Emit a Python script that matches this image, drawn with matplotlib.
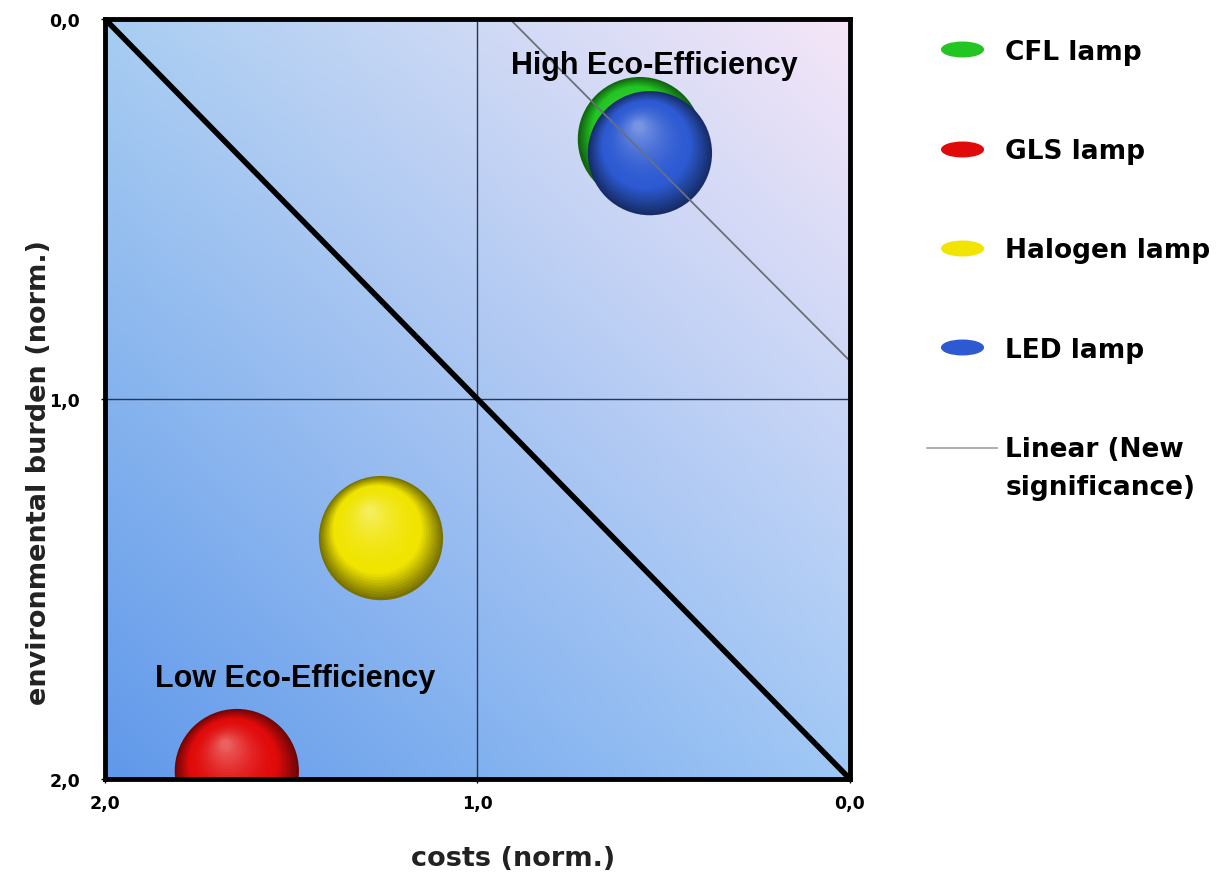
import numpy as np
import matplotlib
matplotlib.use("Agg")
import matplotlib.pyplot as plt
from matplotlib.lines import Line2D
from matplotlib.path import Path
from matplotlib.transforms import Affine2D
from matplotlib.colors import to_rgb

plt.rcParams["font.family"] = ["Liberation Sans", "DejaVu Sans"]

# data (normalised costs / environmental burden)
lamps = ["CFL lamp", "GLS lamp", "Halogen lamp", "LED lamp"]
costs = [0.564, 1.646, 1.259, 0.537]
burden = [0.316, 1.979, 1.366, 0.353]
lamp_colors = ["#22c522", "#e00a0a", "#f0e400", "#2d5ad2"]
draw_order = [0, 1, 2, 3]

trend_x = [0.913, 0.0]
trend_y = [0.0, 0.90]

ticks = [2.0, 1.0, 0.0]
tick_labels = ["2,0", "1,0", "0,0"]

fig = plt.figure(figsize=(12.26, 8.78), dpi=100)
ax = fig.add_axes([0.0856, 0.1116, 0.6077, 0.8656])
ax.set_xlim(2, 0)
ax.set_ylim(2, 0)

# background gradient
tl = np.array([168, 205, 242]) / 255
tr = np.array([246, 230, 248]) / 255
bl = np.array([96, 152, 234]) / 255
br = np.array([160, 200, 245]) / 255
n = 200
u = np.linspace(0, 1, n)[None, :, None]
v = np.linspace(0, 1, n)[:, None, None]
img = (1 - u) * (1 - v) * tl + u * (1 - v) * tr + (1 - u) * v * bl + u * v * br
ax.imshow(img, extent=(2, 0, 2, 0), aspect="auto", zorder=0, interpolation="bilinear")

# quadrant lines and diagonal
ax.axvline(1.0, color="#2a3550", lw=1.0, zorder=1)
ax.axhline(1.0, color="#2a3550", lw=1.0, zorder=1)
ax.plot([2, 0], [0, 2], color="black", lw=4, zorder=2, solid_capstyle="butt")
ax.plot(trend_x, trend_y, color="#6b6f7a", lw=1.3, zorder=5)

# shaded spheres
s_base = 8000
for i in draw_order:
    base = np.array(to_rgb(lamp_colors[i]))
    steps = 30
    for k, t in enumerate(np.linspace(0, 1, steps)):
        if t < 0.3:
            c = base * (0.5 + 0.5 * t / 0.3)
        else:
            c = base + (1 - base) * 0.35 * ((t - 0.3) / 0.7) ** 1.8
        size = s_base * (1 - 0.92 * t) ** 2
        ax.scatter(costs[i] + 0.03 * t, burden[i] - 0.07 * t, s=size,
                   color=np.clip(c, 0, 1), edgecolors="none", zorder=3 + i * 0.1)

ax.text(0.525, 0.12, "High Eco-Efficiency", fontsize=22, fontweight="bold",
        ha="center", va="center", zorder=6)
ax.text(1.49, 1.735, "Low Eco-Efficiency", fontsize=22, fontweight="bold",
        ha="center", va="center", zorder=6)

tick_font = {"family": "DejaVu Sans", "size": 12.5, "weight": "bold"}
ax.set_xticks(ticks)
ax.set_xticklabels(tick_labels, fontdict=tick_font)
ax.set_yticks([0.0, 1.0, 2.0])
ax.set_yticklabels(["0,0", "1,0", "2,0"], fontdict=tick_font)
ax.tick_params(axis="x", length=3, width=1, pad=8)
ax.tick_params(axis="y", length=3, width=1, pad=15)
for sp in ax.spines.values():
    sp.set_linewidth(3.5)
    sp.set_zorder(10)

ax.set_xlabel("costs (norm.)", fontsize=19.5, fontweight="bold", family="DejaVu Sans",
              color="#222222")
ax.set_ylabel("environmental burden (norm.)", fontsize=19.5, fontweight="bold",
              family="DejaVu Sans", color="#222222")
ax.xaxis.set_label_coords(0.548, -0.087)
ax.yaxis.set_label_coords(-0.071, 0.405)

# legend
ellipse = Path.unit_circle().transformed(Affine2D().scale(1.0, 0.35))
handles = [Line2D([], [], linestyle="none", marker=ellipse, markersize=30,
                  markerfacecolor=lamp_colors[i], markeredgecolor=lamp_colors[i])
           for i in range(len(lamps))]
handles.append(Line2D([], [], color="#a0a0a0", lw=1.2))
labels = lamps + ["Linear (New\nsignificance)"]
leg = fig.legend(handles, labels, loc="upper left", bbox_to_anchor=(0.737, 0.982),
                 frameon=False, prop={"family": "DejaVu Sans", "size": 19, "weight": "bold"},
                 labelspacing=2.78, handlelength=2.65, handletextpad=0.3, borderpad=0.4)
leg.get_texts()[-1].set_linespacing(1.6)
# trend line handle sits level with the first text line
trend_handle = leg.legend_handles[-1]
trend_handle.set_ydata(np.asarray(trend_handle.get_ydata()) + 15)

fig.savefig("out.png", dpi=100)
